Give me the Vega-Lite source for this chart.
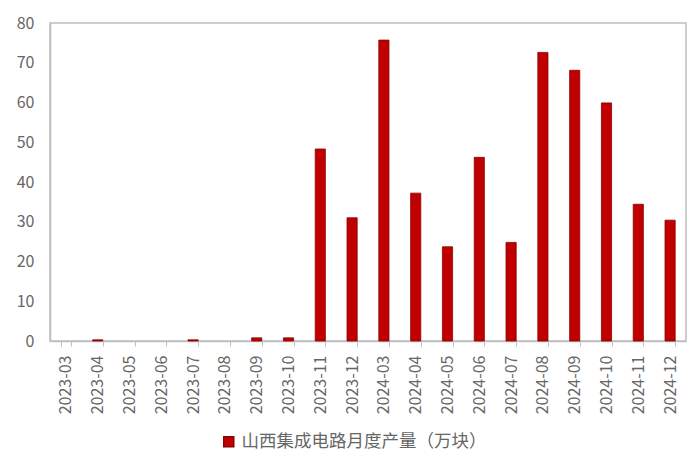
{
  "$schema": "https://vega.github.io/schema/vega-lite/v6.json",
  "width": 636,
  "height": 318,
  "autosize": {"type": "none"},
  "padding": {"left": 50, "top": 23, "right": 14, "bottom": 127},
  "background": "white",
  "config": {
    "view": {"stroke": "#BFBFBF", "strokeWidth": 1.5},
    "font": "Noto Sans CJK SC"
  },
  "data": {
    "values": [
      {"month": "2023-03", "value": 0, "series": "山西集成电路月度产量（万块）"},
      {"month": "2023-04", "value": 0.3, "series": "山西集成电路月度产量（万块）"},
      {"month": "2023-05", "value": 0, "series": "山西集成电路月度产量（万块）"},
      {"month": "2023-06", "value": 0, "series": "山西集成电路月度产量（万块）"},
      {"month": "2023-07", "value": 0.3, "series": "山西集成电路月度产量（万块）"},
      {"month": "2023-08", "value": 0, "series": "山西集成电路月度产量（万块）"},
      {"month": "2023-09", "value": 0.8, "series": "山西集成电路月度产量（万块）"},
      {"month": "2023-10", "value": 0.8, "series": "山西集成电路月度产量（万块）"},
      {"month": "2023-11", "value": 48.3, "series": "山西集成电路月度产量（万块）"},
      {"month": "2023-12", "value": 31.0, "series": "山西集成电路月度产量（万块）"},
      {"month": "2024-03", "value": 75.7, "series": "山西集成电路月度产量（万块）"},
      {"month": "2024-04", "value": 37.2, "series": "山西集成电路月度产量（万块）"},
      {"month": "2024-05", "value": 23.7, "series": "山西集成电路月度产量（万块）"},
      {"month": "2024-06", "value": 46.2, "series": "山西集成电路月度产量（万块）"},
      {"month": "2024-07", "value": 24.8, "series": "山西集成电路月度产量（万块）"},
      {"month": "2024-08", "value": 72.6, "series": "山西集成电路月度产量（万块）"},
      {"month": "2024-09", "value": 68.1, "series": "山西集成电路月度产量（万块）"},
      {"month": "2024-10", "value": 59.9, "series": "山西集成电路月度产量（万块）"},
      {"month": "2024-11", "value": 34.4, "series": "山西集成电路月度产量（万块）"},
      {"month": "2024-12", "value": 30.4, "series": "山西集成电路月度产量（万块）"}
    ]
  },
  "mark": {"type": "bar", "stroke": "#8B0000", "strokeWidth": 0.8},
  "encoding": {
    "x": {
      "field": "month",
      "type": "ordinal",
      "sort": null,
      "scale": {"paddingInner": 0.68, "paddingOuter": 0.34},
      "axis": {
        "title": null,
        "labelAngle": -90,
        "labelFontSize": 16,
        "labelColor": "#666666",
        "labelPadding": 9,
        "domainColor": "#BFBFBF",
        "domainWidth": 1.5,
        "tickColor": "#BFBFBF",
        "tickBand": "extent",
        "tickSize": 5,
        "labelBaseline": "middle"
      }
    },
    "y": {
      "field": "value",
      "type": "quantitative",
      "scale": {"domain": [0, 80]},
      "axis": {
        "title": null,
        "values": [0, 10, 20, 30, 40, 50, 60, 70, 80],
        "labelFontSize": 16,
        "labelColor": "#666666",
        "grid": false,
        "ticks": false,
        "labelPadding": 16,
        "domainColor": "#BFBFBF",
        "domainWidth": 1.5
      }
    },
    "strokeOpacity": {
      "condition": {"test": "datum.value > 0", "value": 1},
      "value": 0
    },
    "color": {
      "field": "series",
      "type": "nominal",
      "scale": {"range": ["#C00000"]},
      "legend": {
        "title": null,
        "orient": "none",
        "legendX": 170,
        "legendY": 410,
        "symbolType": "square",
        "symbolSize": 100,
        "symbolStrokeColor": "#8B0000",
        "labelFontSize": 17.5,
        "labelColor": "#666666",
        "labelLimit": 400
      }
    }
  }
}
